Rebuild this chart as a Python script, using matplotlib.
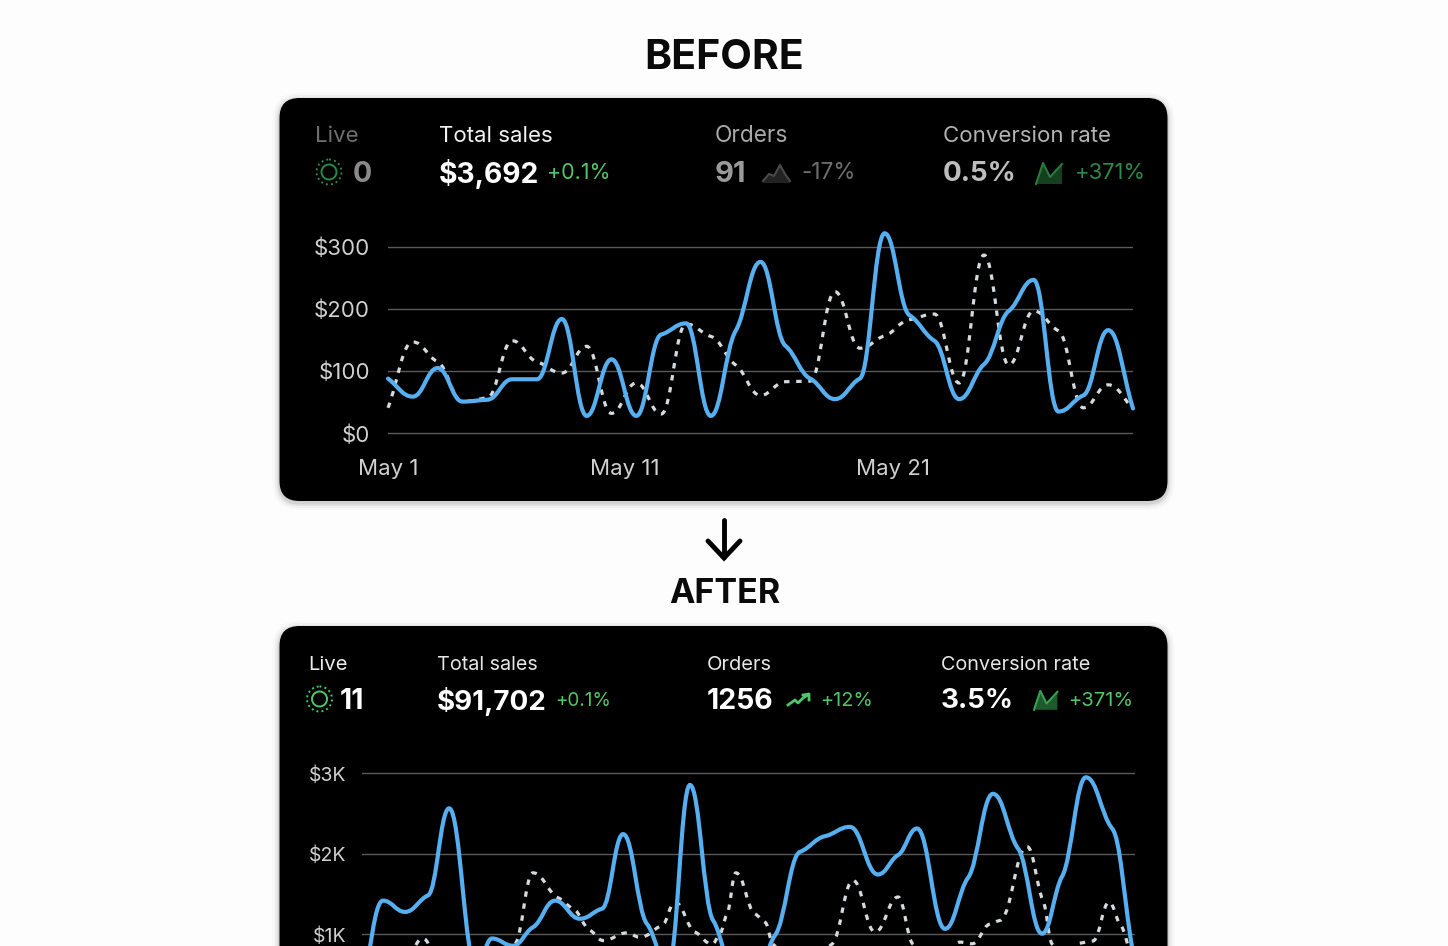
"""Before / after sales dashboard cards."""

import matplotlib
matplotlib.use("Agg")
import matplotlib.pyplot as plt
import numpy as np
from matplotlib.patches import Circle, FancyBboxPatch, PathPatch, Polygon
from matplotlib.path import Path

W, H = 1448, 946

plt.rcParams["font.family"] = ["Inter", "DejaVu Sans"]

# daily values of the first card
before_days = list(range(31))
before_current = [88, 59, 105, 51, 54, 87, 87, 184, 28, 119, 28, 159, 177, 28, 165, 276,
                  141, 88, 55, 88, 322, 190, 149, 55, 111, 197, 247, 35, 61, 166, 40]
before_previous = [41, 147, 115, 51, 57, 149, 115, 97, 140, 32, 81, 31, 176, 156, 110, 61,
                   83, 84, 228, 137, 157, 183, 192, 81, 287, 110, 197, 165, 41, 78, 40]
before_yticks = [0, 100, 200, 300]
before_ylabels = ["$0", "$100", "$200", "$300"]
before_xticks = [0, 9.52, 20.33]
before_xlabels = ["May 1", "May 11", "May 21"]

# second card, cut off by the bottom of the picture
after_current_days = [0.00, 0.83, 1.69, 2.60, 3.43, 4.49, 5.12, 5.94, 6.73, 7.60, 8.58, 9.45,
                      10.28, 11.22, 12.05, 12.91, 13.82, 14.69, 15.47, 16.26, 17.24, 18.23,
                      19.21, 20.31, 21.10, 21.85, 22.95, 23.86, 24.84, 25.83, 26.77, 27.56,
                      28.50, 29.53, 30.31]
after_current = [300, 1420, 1280, 1485, 2565, 600, 950, 860, 1090, 1420, 1195, 1320,
                 2245, 1130, 600, 2855, 1175, 500, 450, 990, 2025, 2220,
                 2335, 1745, 1985, 2315, 1070, 1705, 2745, 2065, 1010, 1720,
                 2950, 2315, 850]
after_previous_days = [1.50, 2.40, 3.27, 4.65, 6.02, 6.73, 7.72, 8.31, 8.98, 9.49, 10.43, 10.94,
                       11.81, 12.32, 13.11, 13.78, 14.06, 14.37, 14.72, 15.47, 15.87, 16.18,
                       17.24, 18.50, 19.33, 20.20, 21.10, 21.69, 22.60, 23.54, 24.02, 24.72,
                       25.12, 26.18, 26.81, 27.17, 27.68, 28.19, 28.78, 29.41, 29.84, 30.31]
after_previous = [300, 950, 400, 300, 880, 1765, 1455, 1320, 1050, 925, 1020, 965,
                  1110, 1400, 1030, 880, 990, 1255, 1765, 1255, 1150, 880,
                  400, 880, 1670, 1030, 1465, 880, 500, 905, 885, 1130,
                  1175, 2090, 1420, 880, 600, 890, 920, 1400, 1130, 700]
after_yticks = [1000, 2000, 3000]
after_ylabels = ["$1K", "$2K", "$3K"]

BLUE = "#56aff0"
DASH = "#d5dadd"
GRID = "#5a5a5a"
GREEN = "#52c568"
DIM_GREEN = "#2f8a45"


def monotone_path(xs, ys):
    # monotone cubic through the points, written as bezier segments
    xs = np.asarray(xs, float)
    ys = np.asarray(ys, float)
    h = np.diff(xs)
    s = np.diff(ys) / h
    t = np.zeros(len(xs))
    for i in range(1, len(xs) - 1):
        if s[i - 1] * s[i] > 0:
            t[i] = 0.6 * np.sign(s[i]) * min(abs(s[i - 1]), abs(s[i]))
    t[0] = s[0]
    t[-1] = s[-1]
    verts = [(xs[0], ys[0])]
    codes = [Path.MOVETO]
    for i in range(len(h)):
        verts += [(xs[i] + h[i] * 0.42, ys[i] + t[i] * h[i] * 0.42),
                  (xs[i + 1] - h[i] * 0.42, ys[i + 1] - t[i + 1] * h[i] * 0.42),
                  (xs[i + 1], ys[i + 1])]
        codes += [Path.CURVE4] * 3
    return Path(verts, codes)


def px_axes(fig, left, top, right, bottom, xlim, ylim, zorder=3):
    ax = fig.add_axes([left / W, 1 - bottom / H, (right - left) / W, (bottom - top) / H],
                      zorder=zorder)
    ax.set_xlim(*xlim)
    ax.set_ylim(*ylim)
    ax.patch.set_alpha(0)
    for s in ax.spines.values():
        s.set_visible(False)
    return ax


def draw_series(ax, days, current, prev_days, previous):
    ax.add_patch(PathPatch(monotone_path(prev_days, previous), fill=False, ec=DASH, lw=2.3,
                           ls=(0, (1.7, 2.1)), capstyle="butt", zorder=3, clip_on=False))
    ax.add_patch(PathPatch(monotone_path(days, current), fill=False, ec=BLUE, lw=3.0,
                           capstyle="round", zorder=4, clip_on=False))


def pulse(bg, x, y, color, ring_alpha=1.0):
    bg.add_patch(Circle((x, y), 7.5, fill=False, ec=color, lw=1.4, alpha=ring_alpha, zorder=5))
    bg.add_patch(Circle((x, y), 12.5, fill=False, ec=color, lw=1.4, ls=(0, (1, 1.6)),
                        alpha=ring_alpha, zorder=5))


def spark(bg, x, y, shape, fill, line, scale=1.0):
    pts = [(x + px * scale, y + py * scale) for px, py in shape]
    bg.add_patch(Polygon(pts, closed=True, fc=fill, ec="none", zorder=5))
    bg.plot([p[0] for p in pts[:-2]], [p[1] for p in pts[:-2]], color=line, lw=1.5, zorder=6,
            solid_joinstyle="round")


fig = plt.figure(figsize=(W / 100, H / 100), dpi=100, facecolor="#fdfdfd")
bg = px_axes(fig, 0, 0, W, H, (0, W), (H, 0), zorder=1)
bg.axis("off")

# cards with a faint shadow
for top, bottom in [(98, 501), (626, 1000)]:
    for grow, a in [(7, 0.02), (5, 0.03), (3, 0.05), (1.5, 0.07)]:
        bg.add_patch(FancyBboxPatch((299.5, top + 22), 848, bottom - top - 40,
                                    boxstyle=f"round,pad={20 + grow},rounding_size={20 + grow}",
                                    fc="black", ec="none", alpha=a, zorder=1))
    bg.add_patch(FancyBboxPatch((299.5, top + 20), 848, bottom - top - 40,
                                boxstyle="round,pad=20,rounding_size=20", fc="#000000",
                                ec="none", zorder=2))

bg.text(724.5, 58, "BEFORE", ha="center", va="center", fontsize=29.5, fontweight="bold", color="#0a0a0a")
bg.text(725, 594, "AFTER", ha="center", va="center", fontsize=24.5, fontweight="bold", color="#0a0a0a")
bg.plot([724, 724], [520, 557], color="black", lw=3.5, solid_capstyle="round")
bg.plot([708, 724, 740], [541, 558, 541], color="black", lw=3.5, solid_capstyle="round",
        solid_joinstyle="miter")

# first card header
bg.text(315, 136, "Live", fontsize=16, color="#6f6f6f", va="center", zorder=6)
bg.text(439, 136, "Total sales", fontsize=16, color="#f2f2f2", va="center", zorder=6)
bg.text(715, 136, "Orders", fontsize=16.3, color="#a8a8a8", va="center", zorder=6)
bg.text(943, 136, "Conversion rate", fontsize=16, color="#b4b4b4", va="center", zorder=6)
bg.text(353, 174, "0", fontsize=20.5, fontweight="bold", color="#8a8a8a", va="center", zorder=6)
bg.text(439, 174, "$3,692", fontsize=20.3, fontweight="bold", color="white", va="center", zorder=6)
bg.text(547, 173, "+0.1%", fontsize=15.5, color=GREEN, va="center", zorder=6)
bg.text(715, 174, "91", fontsize=21, fontweight="bold", color="#9a9a9a", va="center", zorder=6)
bg.text(801, 173, "-17%", fontsize=16.2, color="#6e6e6e", va="center", zorder=6)
bg.text(943, 174, "0.5%", fontsize=20, fontweight="bold", color="#bdbdbd", va="center", zorder=6)
bg.text(1075, 173, "+371%", fontsize=15.8, color=DIM_GREEN, va="center", zorder=6)

# second card header
bg.text(308, 665, "Live", fontsize=14.5, color="#ececec", va="center", zorder=6)
bg.text(437, 665, "Total sales", fontsize=14.2, color="#e6e6e6", va="center", zorder=6)
bg.text(707, 665, "Orders", fontsize=14.5, color="#e6e6e6", va="center", zorder=6)
bg.text(941, 665, "Conversion rate", fontsize=14.3, color="#e6e6e6", va="center", zorder=6)
bg.text(340, 701, "11", fontsize=20.5, fontweight="bold", color="white", va="center", zorder=6)
bg.text(437, 701, "$91,702", fontsize=20, fontweight="bold", color="white", va="center", zorder=6)
bg.text(555, 701, "+0.1%", fontsize=13.6, color=GREEN, va="center", zorder=6)
bg.text(707, 701, "1256", fontsize=20.5, fontweight="bold", color="white", va="center", zorder=6)
bg.text(820, 701, "+12%", fontsize=14.3, color=GREEN, va="center", zorder=6)
bg.text(941, 701, "3.5%", fontsize=20, fontweight="bold", color="white", va="center", zorder=6)
bg.text(1068, 701, "+371%", fontsize=14.5, color=GREEN, va="center", zorder=6)

# header glyphs
pulse(bg, 329, 172, "#2f9a48", 0.9)
pulse(bg, 319.5, 699, GREEN)
peak = [(0, 9), (6, 2), (11, 4), (17, -7), (22, 2), (27, 9), (27, 11), (0, 11)]
spark(bg, 763, 172, peak, "#222222", "#4a4a4a")
rise = [(0, 12), (7, -9), (14, 5), (26, -8), (26, 12), (0, 12)]
spark(bg, 1036, 172, rise, "#14401f", "#2a7a3d")
spark(bg, 1034, 699, rise, "#1d5a2c", "#3aa050", 0.9)
bg.plot([788, 795, 798, 803, 808], [705, 700, 703, 698, 695], color=GREEN, lw=2, zorder=6)
bg.plot([803, 809, 809], [695, 694, 700], color=GREEN, lw=2, zorder=6)

# first chart
ax1 = px_axes(fig, 388, 225, 1133, 445, (0, 30), (-18.9, 335.4))
for v in before_yticks:
    ax1.axhline(v, color=GRID, lw=1, zorder=1)
draw_series(ax1, before_days, before_current, before_days, before_previous)
ax1.set_yticks(before_yticks, before_ylabels)
ax1.set_xticks(before_xticks, before_xlabels)
ax1.tick_params(axis="y", length=0, pad=13, labelsize=16, labelcolor="#d0d0d0")
ax1.tick_params(axis="x", length=0, pad=10, labelsize=16, labelcolor="#d0d0d0")

# second chart
ax2 = px_axes(fig, 362, 760, 1135, H, (0, 30.43), (857, 3165))
for v in after_yticks:
    ax2.axhline(v, color=GRID, lw=1, zorder=1)
draw_series(ax2, after_current_days, after_current, after_previous_days, after_previous)
ax2.set_yticks(after_yticks, after_ylabels)
ax2.set_xticks([])
ax2.tick_params(axis="y", length=0, pad=11.5, labelsize=14, labelcolor="#d0d0d0")

fig.savefig("out.png", dpi=100, facecolor=fig.get_facecolor())
plt.close(fig)
